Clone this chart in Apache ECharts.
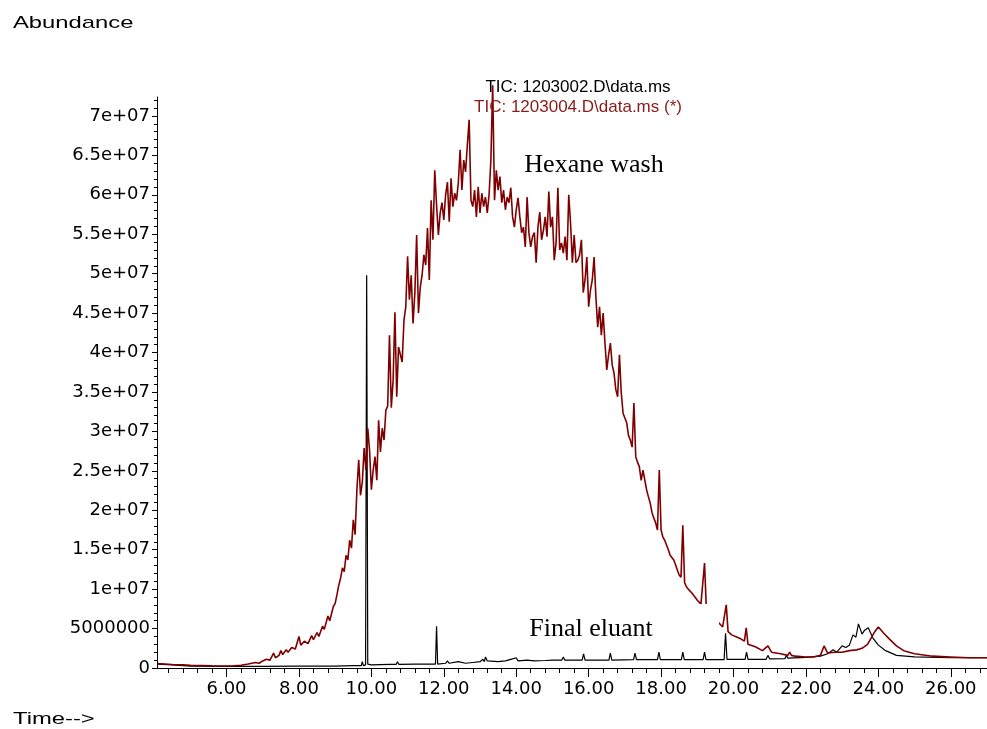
<!DOCTYPE html>
<html>
<head>
<meta charset="utf-8">
<script src="https://cdn.jsdelivr.net/npm/echarts@6/dist/echarts.min.js"></script>
<style>
html,body{margin:0;padding:0;background:#fff;}
#chart{width:987px;height:729px;}
</style>
</head>
<body>
<div id="chart"></div>
<script>
// ---- Data (abundance values in millions, time in minutes) ----
const xTickValues = [6, 8, 10, 12, 14, 16, 18, 20, 22, 24, 26];
const xTickLabels = ['6.00','8.00','10.00','12.00','14.00','16.00','18.00','20.00','22.00','24.00','26.00'];
const yTickValues = [0,5e6,10e6,15e6,20e6,25e6,30e6,35e6,40e6,45e6,50e6,55e6,60e6,65e6,70e6];
const yTickLabels = ['0','5000000','1e+07','1.5e+07','2e+07','2.5e+07','3e+07','3.5e+07','4e+07','4.5e+07','5e+07','5.5e+07','6e+07','6.5e+07','7e+07'];

// Hexane wash (red) – early part [time, abundance(M)]
const hexaneEarly = [[4.1,0.55],[4.3,0.5],[4.5,0.45],[4.8,0.4],[5.0,0.35],[5.3,0.32],[5.6,0.28],[5.9,0.25],[6.2,0.28],[6.4,0.35],[6.6,0.5],[6.8,0.7],[6.9,0.6],[7.0,0.9],[7.1,1.1],[7.2,1.0],[7.3,1.9],[7.35,1.3],[7.45,1.6],[7.5,2.2],[7.55,1.7],[7.65,2.3],[7.7,2.0],[7.8,2.6],[7.9,2.4],[8.0,4.0],[8.05,2.9],[8.15,3.4],[8.25,3.1],[8.35,4.1],[8.4,3.6],[8.5,4.5],[8.55,4.0],[8.65,5.3],[8.7,4.9],[8.8,6.6],[8.85,6.0],[8.95,7.8]];
// Hexane wash (red) – main hump, sampled every 0.05 min from 9.00 to 20.00
const hexaneMainStart = 9.0;
const hexaneMainStep = 0.05;
const hexaneMain = [
 8.2,9.3,10.5,11.4,12.7,12.2,14.3,13.7,16.2,15.2,
 18.8,16.9,22.6,26.4,21.9,23.6,27.9,25.1,30.4,27.6,
 22.6,25.1,26.8,23.8,31.4,27.4,30.4,28.9,32.7,33.2,
 42.2,33.0,36.5,45.1,34.4,40.7,40.9,38.8,44.1,45.8,
 52.2,46.7,49.8,43.7,47.5,54.9,45.0,48.3,49.8,52.4,
 51.1,55.8,49.2,59.3,54.3,63.1,58.7,54.9,57.7,59.0,
 56.8,60.0,61.6,56.6,62.1,58.5,60.2,59.3,61.5,65.7,
 60.6,64.4,62.9,66.3,69.5,59.3,58.5,60.6,57.2,61.0,
 57.7,60.2,58.5,59.7,57.7,60.0,64.4,73.9,59.3,63.1,
 60.6,62.3,59.0,60.6,58.1,59.7,59.0,60.9,57.2,55.9,
 58.1,59.6,57.2,55.2,55.9,53.4,59.7,55.2,53.4,54.7,
 55.2,51.4,55.9,57.8,54.3,55.5,57.2,54.7,60.4,55.9,
 57.2,51.7,53.9,60.9,53.0,53.9,52.6,54.7,51.7,60.0,
 56.4,51.4,54.9,51.4,51.7,52.4,54.3,47.6,49.2,52.1,
 45.8,47.9,49.2,52.1,47.0,43.2,45.8,42.2,45.0,41.2,
 37.8,39.7,41.2,38.4,37.4,35.3,34.4,39.7,34.9,32.3,
 31.7,31.1,29.5,28.9,28.0,33.6,26.8,26.1,25.5,23.8,
 25.1,25.1,22.6,21.7,20.9,19.7,19.0,18.4,17.5,25.1,
 17.5,16.6,16.2,15.6,15.0,14.3,14.1,13.7,13.1,12.4,
 11.8,11.5,18.1,10.8,10.3,10.0,9.8,9.5,9.3,8.9,
 8.6,8.4,8.1,7.9,13.3,7.5,7.2,7.0,6.7,6.5,
 6.2,6.0,5.7,5.5,5.2,5.1,8.0,4.6,4.4,4.2,4.1];
// Hexane wash (red) – late part
const hexaneLate = [[20.1,3.9],[20.2,3.7],[20.3,3.4],[20.35,5.1],[20.4,3.0],[20.6,2.7],[20.8,2.2],[20.95,2.8],[21.05,2.0],[21.3,1.8],[21.5,1.6],[21.55,2.0],[21.6,1.6],[21.7,1.5],[22.0,1.4],[22.2,1.4],[22.4,1.6],[22.5,2.8],[22.6,1.9],[22.8,2.0],[23.0,2.0],[23.2,2.2],[23.4,2.3],[23.55,2.5],[23.7,3.0],[23.8,3.8],[23.9,4.6],[24.0,5.2],[24.05,5.1],[24.15,4.4],[24.3,3.7],[24.5,2.8],[24.7,2.2],[25.0,1.8],[25.5,1.5],[26.0,1.4],[26.5,1.3],[27.0,1.3]];

// Final eluant (black) [time, abundance(M)]
const finalEluant = [[4.1,0.5],[4.5,0.4],[5.0,0.25],[6.0,0.2],[7.0,0.2],[8.0,0.25],[9.0,0.25],[9.5,0.3],[9.72,0.3],[9.75,0.8],[9.78,0.3],[9.84,0.4],[9.87,49.8],[9.90,0.5],[10.0,0.4],[10.5,0.45],[10.68,0.45],[10.72,0.8],[10.76,0.45],[11.2,0.5],[11.5,0.5],[11.77,0.5],[11.80,5.3],[11.83,0.5],[12.05,0.6],[12.1,0.9],[12.15,0.6],[12.4,0.8],[12.6,0.6],[12.8,0.7],[13.0,0.8],[13.08,1.1],[13.12,0.8],[13.15,1.4],[13.2,0.9],[13.5,0.8],[13.7,0.9],[13.85,1.1],[13.9,0.9],[14.0,1.3],[14.05,0.9],[14.3,1.0],[14.5,0.9],[14.8,0.95],[15.0,1.0],[15.26,1.0],[15.3,1.4],[15.34,1.0],[15.82,1.0],[15.86,1.8],[15.9,1.0],[16.2,1.0],[16.56,1.0],[16.6,1.9],[16.64,1.0],[17.24,1.05],[17.28,1.9],[17.32,1.05],[17.9,1.05],[17.94,2.0],[17.98,1.05],[18.56,1.05],[18.6,2.0],[18.64,1.05],[19.16,1.05],[19.2,2.0],[19.24,1.05],[19.74,1.05],[19.78,4.4],[19.82,1.1],[20.32,1.1],[20.36,2.0],[20.4,1.1],[20.9,1.1],[20.95,1.6],[21.0,1.15],[21.42,1.2],[21.46,1.6],[21.5,1.25],[22.0,1.35],[22.4,1.5],[22.6,1.8],[22.75,2.3],[22.85,2.0],[23.0,2.8],[23.1,2.6],[23.2,2.9],[23.3,4.2],[23.38,3.9],[23.45,5.6],[23.55,4.3],[23.62,4.8],[23.72,5.1],[23.85,3.8],[24.0,2.9],[24.2,2.2],[24.5,1.6],[25.0,1.4],[26.0,1.3],[27.0,1.3]];

// ---- Build series data ----
const M = 1e6;
const redData = [];
hexaneEarly.forEach(p => redData.push([p[0], p[1] * M]));
hexaneMain.forEach((v, i) => redData.push([+(hexaneMainStart + i * hexaneMainStep).toFixed(2), v * M]));
hexaneLate.forEach(p => redData.push([p[0], p[1] * M]));
const blackData = finalEluant.map(p => [p[0], p[1] * M]);

const xMinor = [];
for (let v = 4.4; v < 27; v += 0.4) xMinor.push(Math.round(v * 10) / 10);
const yMinor = [];
for (let v = 0; v <= 72e6; v += 1e6) yMinor.push(v);

const X_MIN = 4.08, X_MAX = 27.0, Y_MAX = 72.4e6;
const RED = '#800000';

const chart = echarts.init(document.getElementById('chart'), null, {renderer: 'canvas'});
chart.setOption({
  animation: false,
  backgroundColor: '#fff',
  grid: {left: 157, right: 0, top: 97, bottom: 61, containLabel: false},
  xAxis: [
    {type: 'value', min: X_MIN, max: X_MAX, position: 'bottom',
     axisLine: {show: true, onZero: false, lineStyle: {color: '#000', width: 1}},
     axisTick: {show: true, customValues: xTickValues, length: 9, lineStyle: {color: '#000'}},
     axisLabel: {customValues: xTickValues, formatter: v => { const k = xTickValues.indexOf(v); return k >= 0 ? xTickLabels[k] : ''; },
       fontFamily: 'DejaVu Sans', fontSize: 18, color: '#000', margin: 12},
     splitLine: {show: false}},
    {type: 'value', min: X_MIN, max: X_MAX, position: 'bottom', offset: 0,
     axisLine: {show: false, onZero: false},
     axisTick: {show: true, customValues: xMinor, length: 5, lineStyle: {color: '#000'}},
     axisLabel: {show: false}, splitLine: {show: false}}
  ],
  yAxis: [
    {type: 'value', min: 0, max: Y_MAX, position: 'left',
     axisLine: {show: true, onZero: false, lineStyle: {color: '#000', width: 1}},
     axisTick: {show: true, customValues: yTickValues, length: 5, lineStyle: {color: '#000'}},
     axisLabel: {customValues: yTickValues, formatter: v => { const k = yTickValues.indexOf(v); return k >= 0 ? yTickLabels[k] : ''; },
       fontFamily: 'DejaVu Sans', fontSize: 18, color: '#000', margin: 7},
     splitLine: {show: false}},
    {type: 'value', min: 0, max: Y_MAX, position: 'left', offset: 0,
     axisLine: {show: false, onZero: false},
     axisTick: {show: true, customValues: yMinor, length: 3, lineStyle: {color: '#000'}},
     axisLabel: {show: false}, splitLine: {show: false}}
  ],
  series: [
    {name: 'Final eluant', type: 'line', xAxisIndex: 0, yAxisIndex: 0, data: blackData,
     symbol: 'none', showSymbol: false, clip: false, z: 2,
     lineStyle: {color: '#000', width: 1.2}},
    {name: 'Hexane wash', type: 'line', xAxisIndex: 0, yAxisIndex: 0, data: redData,
     symbol: 'none', showSymbol: false, clip: false, z: 3,
     lineStyle: {color: RED, width: 1.6}}
  ],
  graphic: [
    {type: 'text', x: 13, y: 23, scaleX: 1.4, z: 100,
     style: {text: 'Abundance', fontFamily: 'Liberation Sans', fontSize: 17, fill: '#000', textAlign: 'left', textVerticalAlign: 'middle'}},
    {type: 'text', x: 13, y: 719, scaleX: 1.4, z: 100,
     style: {text: 'Time-->', fontFamily: 'Liberation Sans', fontSize: 17, fill: '#000', textAlign: 'left', textVerticalAlign: 'middle'}},
    {type: 'text', x: 578, y: 87, z: 100,
     style: {text: 'TIC: 1203002.D\\data.ms', fontFamily: 'Liberation Sans', fontSize: 17, fill: '#000', textAlign: 'center', textVerticalAlign: 'middle'}},
    {type: 'text', x: 578, y: 107, z: 100,
     style: {text: 'TIC: 1203004.D\\data.ms (*)', fontFamily: 'Liberation Sans', fontSize: 17, fill: '#8B1A1A', textAlign: 'center', textVerticalAlign: 'middle'}},
    {type: 'text', x: 594, y: 165, z: 100,
     style: {text: 'Hexane wash', fontFamily: 'Liberation Serif', fontSize: 26, fill: '#000', textAlign: 'center', textVerticalAlign: 'middle'}},
    {type: 'rect', z: 50, shape: {x: 512, y: 604, width: 207, height: 42}, style: {fill: '#fff'}},
    {type: 'text', x: 591, y: 629, z: 100,
     style: {text: 'Final eluant', fontFamily: 'Liberation Serif', fontSize: 26, fill: '#000', textAlign: 'center', textVerticalAlign: 'middle'}}
  ]
});
</script>
</body>
</html>
